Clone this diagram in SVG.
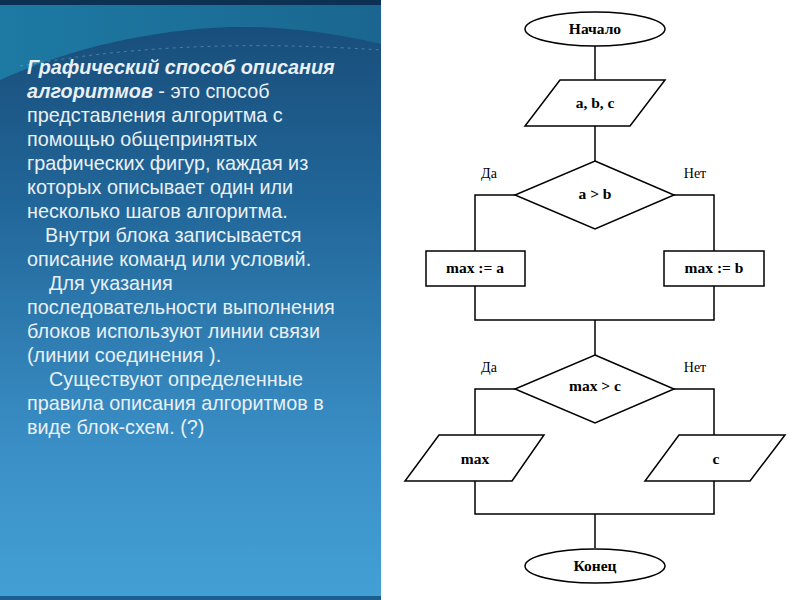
<svg xmlns="http://www.w3.org/2000/svg" width="800" height="600" viewBox="0 0 800 600">
<defs>
<linearGradient id="bg" x1="0" y1="0" x2="0" y2="1">
<stop offset="0" stop-color="#174a76"/>
<stop offset="0.35" stop-color="#22679a"/>
<stop offset="0.75" stop-color="#3a8fc6"/>
<stop offset="1" stop-color="#43a0d4"/>
</linearGradient>
<linearGradient id="top" x1="0" y1="0" x2="1" y2="0">
<stop offset="0" stop-color="#1d7aa3"/>
<stop offset="1" stop-color="#1a6690"/>
</linearGradient>
<style>
.t{font-family:"Liberation Sans",Arial,sans-serif;font-size:19.8px;fill:#e9f0f6}
.b{font-weight:bold;font-style:italic}
.s{fill:#fff;stroke:#000;stroke-width:1.5}
.c{fill:none;stroke:#000;stroke-width:1.5}
.n{font-family:"Liberation Serif","Times New Roman",serif;font-size:15.5px;font-weight:bold;text-anchor:middle;fill:#000}
.l{font-family:"Liberation Serif","Times New Roman",serif;font-size:14px;text-anchor:middle;fill:#000}
</style>
</defs>
<rect width="800" height="600" fill="#fff"/>
<g id="panel">
<rect x="0" y="0" width="381" height="598" fill="url(#bg)"/>
<path d="M0 0 H381 V44 C330 32 280 26 230 27 C150 30 70 48 0 80 Z" fill="url(#top)"/>
<rect x="0" y="0" width="381" height="5" fill="#0c3152"/>
<path d="M20 66 C120 48 230 40 381 50" fill="none" stroke="#8fc4df" stroke-width="0.8" stroke-dasharray="3 4" opacity="0.5"/>
<rect x="0" y="596" width="381" height="4" fill="#1d5e8e"/>
</g>
<g id="description">
<text class="t" x="27" y="74"><tspan class="b">Графический способ описания</tspan></text>
<text class="t" x="27" y="98"><tspan class="b">алгоритмов</tspan> - это способ</text>
<text class="t" x="27" y="122">представления алгоритма с</text>
<text class="t" x="27" y="146">помощью общепринятых</text>
<text class="t" x="27" y="170">графических фигур, каждая из</text>
<text class="t" x="27" y="194">которых описывает один или</text>
<text class="t" x="27" y="218">несколько шагов алгоритма.</text>
<text class="t" x="45" y="242">Внутри блока записывается</text>
<text class="t" x="27" y="266">описание команд или условий.</text>
<text class="t" x="49" y="290">Для указания</text>
<text class="t" x="27" y="314">последовательности выполнения</text>
<text class="t" x="27" y="338">блоков используют линии связи</text>
<text class="t" x="27" y="362">(линии соединения ).</text>
<text class="t" x="49" y="386">Существуют определенные</text>
<text class="t" x="27" y="410">правила описания алгоритмов в</text>
<text class="t" x="27" y="434">виде блок-схем. (?)</text>
</g>
<g id="connectors">
<path class="c" d="M595 46 V80"/>
<path class="c" d="M595 126 V161"/>
<path class="c" d="M515 195 H475 V251"/>
<path class="c" d="M674 195 H714 V251"/>
<path class="c" d="M475 286 V320 H714 V286"/>
<path class="c" d="M595 320 V355"/>
<path class="c" d="M515 389 H475 V435"/>
<path class="c" d="M674 389 H714 V435"/>
<path class="c" d="M475 481 V514 H714 V481"/>
<path class="c" d="M595 514 V548"/>
<text class="l" x="489" y="178">Да</text>
<text class="l" x="695" y="178">Нет</text>
<text class="l" x="489" y="372">Да</text>
<text class="l" x="695" y="372">Нет</text>
</g>
<g id="start">
<ellipse class="s" cx="595" cy="29" rx="70" ry="17"/>
<text class="n" x="595" y="34">Начало</text>
</g>
<g id="input">
<polygon class="s" points="560,80 665,80 630,126 525,126"/>
<text class="n" x="595" y="108">a, b, c</text>
</g>
<g id="cond1">
<polygon class="s" points="595,161 674,195 595,229 515,195"/>
<text class="n" x="595" y="199">a &gt; b</text>
</g>
<g id="maxa">
<rect class="s" x="426" y="251" width="99" height="35"/>
<text class="n" x="475" y="273">max := a</text>
</g>
<g id="maxb">
<rect class="s" x="664" y="251" width="100" height="35"/>
<text class="n" x="714" y="273">max := b</text>
</g>
<g id="cond2">
<polygon class="s" points="595,355 674,389 595,423 515,389"/>
<text class="n" x="595" y="391">max  &gt; c</text>
</g>
<g id="outmax">
<polygon class="s" points="439,435 544,435 512,481 405,481"/>
<text class="n" x="475" y="464">max</text>
</g>
<g id="outc">
<polygon class="s" points="679,435 785,435 750,481 645,481"/>
<text class="n" x="716" y="464">c</text>
</g>
<g id="end">
<ellipse class="s" cx="595" cy="566" rx="70" ry="17"/>
<text class="n" x="595" y="571">Конец</text>
</g>
</svg>
